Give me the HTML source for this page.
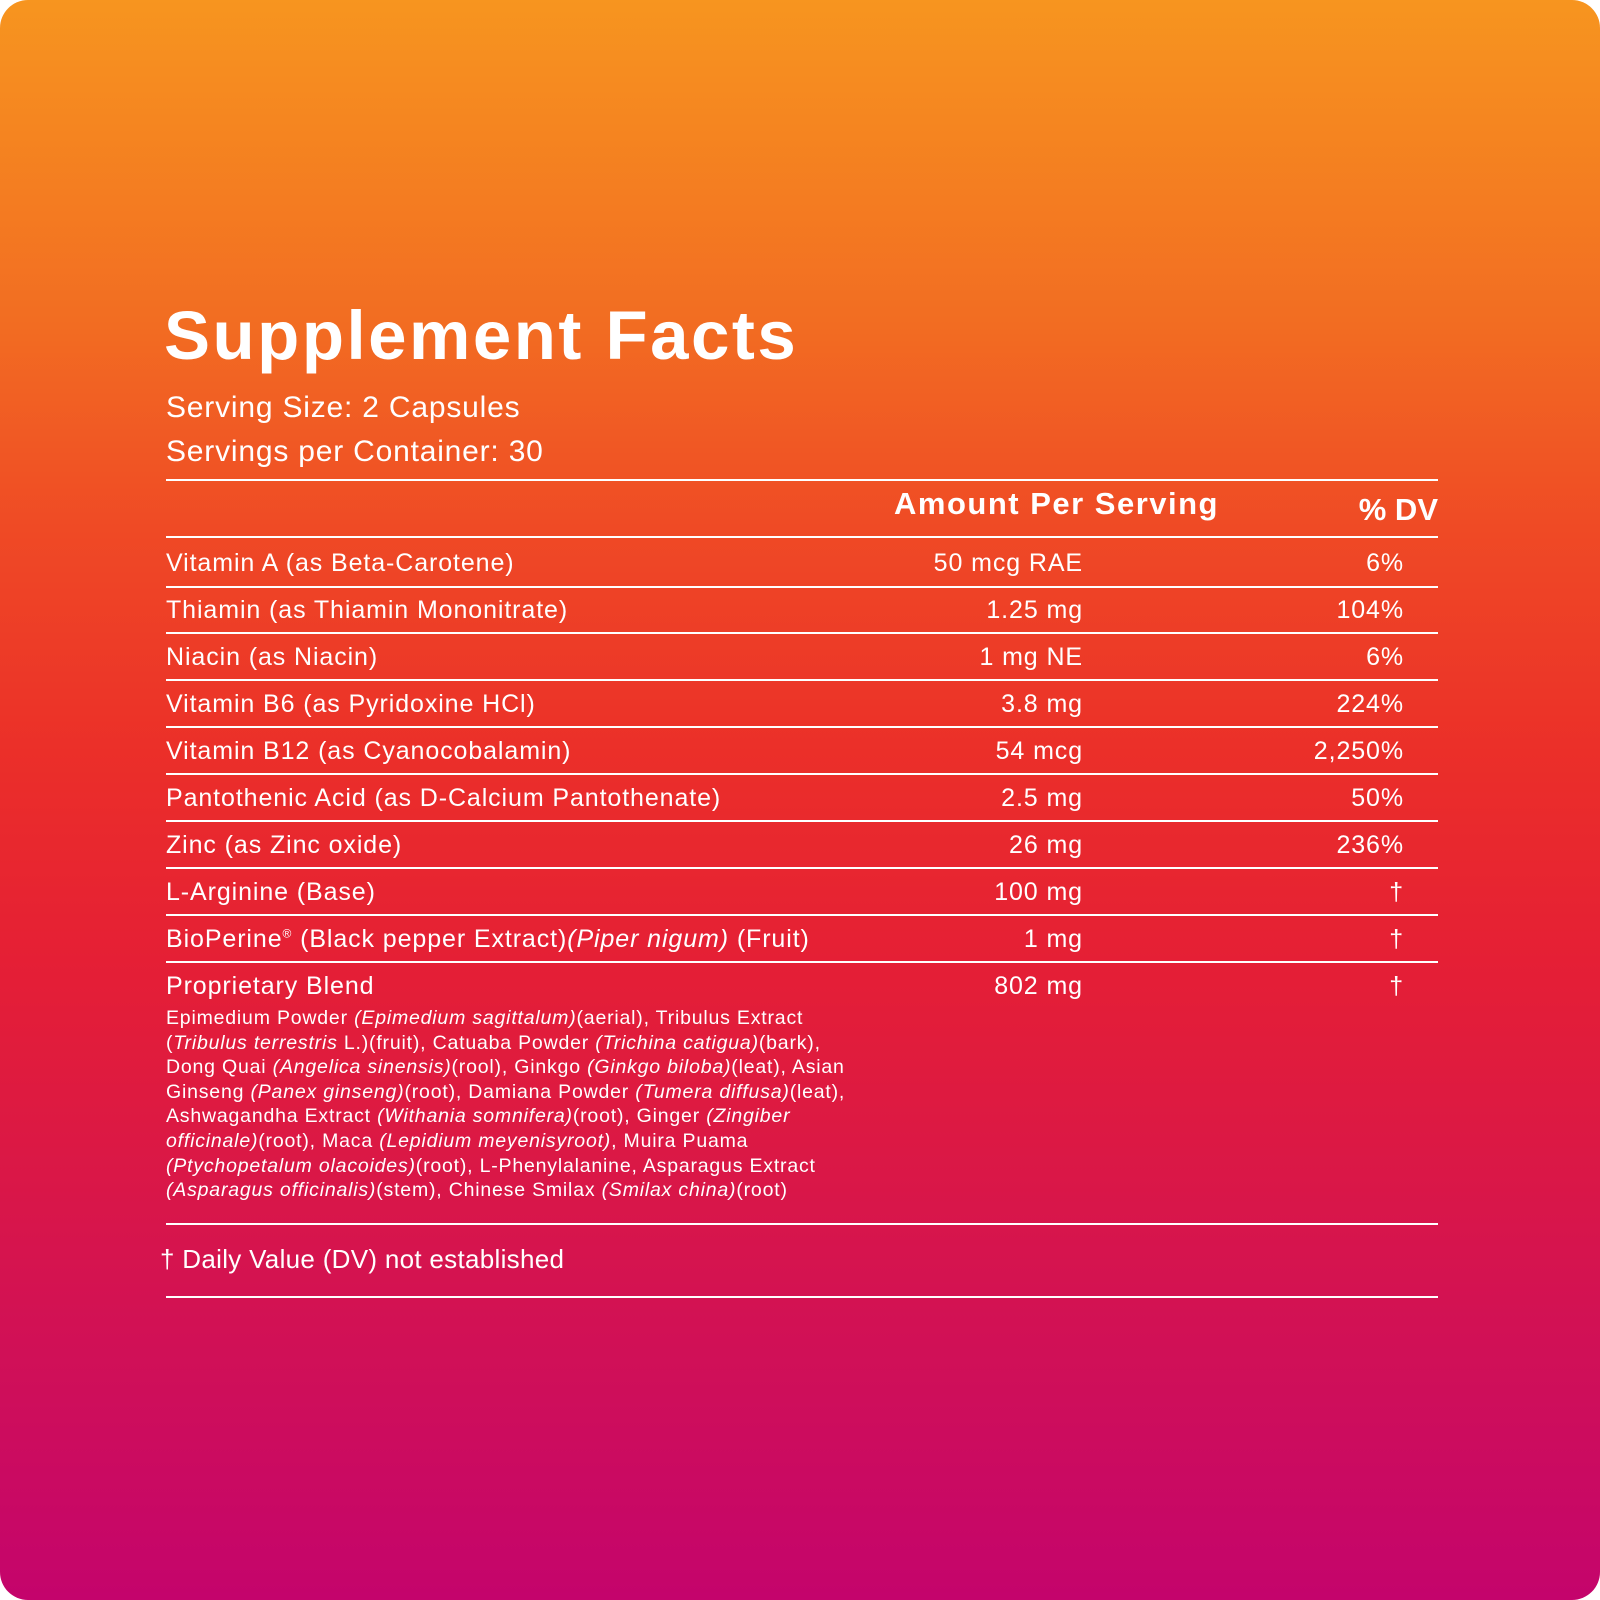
<!DOCTYPE html>
<html><head><meta charset="utf-8"><style>
html,body{margin:0;padding:0;background:#fff;}
#c{position:relative;width:1600px;height:1600px;border-radius:28px;overflow:hidden;
background:linear-gradient(to bottom,#f7951f 0%,#f26d22 20%,#ef4a25 33%,#eb2f29 47%,#e51f35 60%,#db1845 72%,#cf0f59 86%,#c4046c 100%);
font-family:"Liberation Sans",sans-serif;color:#fff;}
.t{position:absolute;white-space:nowrap;}
.l{position:absolute;left:166px;width:1272px;height:2px;background:#fff;}
.r{position:absolute;white-space:nowrap;font-size:25px;letter-spacing:0.9px;}
.a{right:517px;text-align:right;}
.d{right:196px;text-align:right;}
.g{right:196px;}
.b{position:absolute;left:166px;top:1006px;font-size:19.5px;line-height:24.6px;white-space:nowrap;letter-spacing:0.8px;}
</style></head><body><div id="c">
<div class="t" style="left:164px;top:296px;font-size:69px;font-weight:bold;letter-spacing:2.5px;">Supplement Facts</div>
<div class="t" style="left:166px;top:391px;font-size:30px;letter-spacing:0.8px;">Serving Size: 2 Capsules</div>
<div class="t" style="left:166px;top:435px;font-size:30px;letter-spacing:0.8px;">Servings per Container: 30</div>
<div class="l" style="top:479px"></div>
<div class="t" style="left:894px;top:486px;font-size:31px;font-weight:bold;letter-spacing:1.5px;">Amount Per Serving</div>
<div class="t" style="right:162px;top:492px;font-size:31px;font-weight:bold;">% DV</div>
<div class="l" style="top:536px"></div>
<div class="r" style="left:166px;top:549px">Vitamin A (as Beta-Carotene)</div><div class="r a" style="top:549px">50 mcg RAE</div><div class="r d" style="top:549px">6%</div>
<div class="l" style="top:586px"></div>
<div class="r" style="left:166px;top:596px">Thiamin (as Thiamin Mononitrate)</div><div class="r a" style="top:596px">1.25 mg</div><div class="r d" style="top:596px">104%</div>
<div class="l" style="top:632px"></div>
<div class="r" style="left:166px;top:643px">Niacin (as Niacin)</div><div class="r a" style="top:643px">1 mg NE</div><div class="r d" style="top:643px">6%</div>
<div class="l" style="top:679px"></div>
<div class="r" style="left:166px;top:690px">Vitamin B6 (as Pyridoxine HCl)</div><div class="r a" style="top:690px">3.8 mg</div><div class="r d" style="top:690px">224%</div>
<div class="l" style="top:726px"></div>
<div class="r" style="left:166px;top:737px">Vitamin B12 (as Cyanocobalamin)</div><div class="r a" style="top:737px">54 mcg</div><div class="r d" style="top:737px">2,250%</div>
<div class="l" style="top:773px"></div>
<div class="r" style="left:166px;top:784px">Pantothenic Acid (as D-Calcium Pantothenate)</div><div class="r a" style="top:784px">2.5 mg</div><div class="r d" style="top:784px">50%</div>
<div class="l" style="top:820px"></div>
<div class="r" style="left:166px;top:831px">Zinc (as Zinc oxide)</div><div class="r a" style="top:831px">26 mg</div><div class="r d" style="top:831px">236%</div>
<div class="l" style="top:867px"></div>
<div class="r" style="left:166px;top:878px">L-Arginine (Base)</div><div class="r a" style="top:878px">100 mg</div><div class="r d g" style="top:878px">†</div>
<div class="l" style="top:914px"></div>
<div class="r" style="left:166px;top:925px">BioPerine<sup style="font-size:12px">®</sup> (Black pepper Extract)<i>(Piper nigum)</i> (Fruit)</div><div class="r a" style="top:925px">1 mg</div><div class="r d g" style="top:925px">†</div>
<div class="l" style="top:961px"></div>
<div class="r" style="left:166px;top:972px">Proprietary Blend</div><div class="r a" style="top:972px">802 mg</div><div class="r d g" style="top:972px">†</div>
<div class="b">Epimedium Powder <i>(Epimedium sagittalum)</i>(aerial), Tribulus Extract<br>(<i>Tribulus terrestris</i> L.)(fruit), Catuaba Powder <i>(Trichina catigua)</i>(bark),<br>Dong Quai <i>(Angelica sinensis)</i>(rool), Ginkgo <i>(Ginkgo biloba)</i>(leat), Asian<br>Ginseng <i>(Panex ginseng)</i>(root), Damiana Powder <i>(Tumera diffusa)</i>(leat),<br>Ashwagandha Extract <i>(Withania somnifera)</i>(root), Ginger <i>(Zingiber<br>officinale)</i>(root), Maca <i>(Lepidium meyenisyroot)</i>, Muira Puama<br><i>(Ptychopetalum olacoides)</i>(root), L-Phenylalanine, Asparagus Extract<br><i>(Asparagus officinalis)</i>(stem), Chinese Smilax <i>(Smilax china)</i>(root)</div>
<div class="l" style="top:1223px"></div>
<div class="t" style="left:160px;top:1244px;font-size:26px;letter-spacing:0.3px;">† Daily Value (DV) not established</div>
<div class="l" style="top:1296px"></div>
</div></body></html>
